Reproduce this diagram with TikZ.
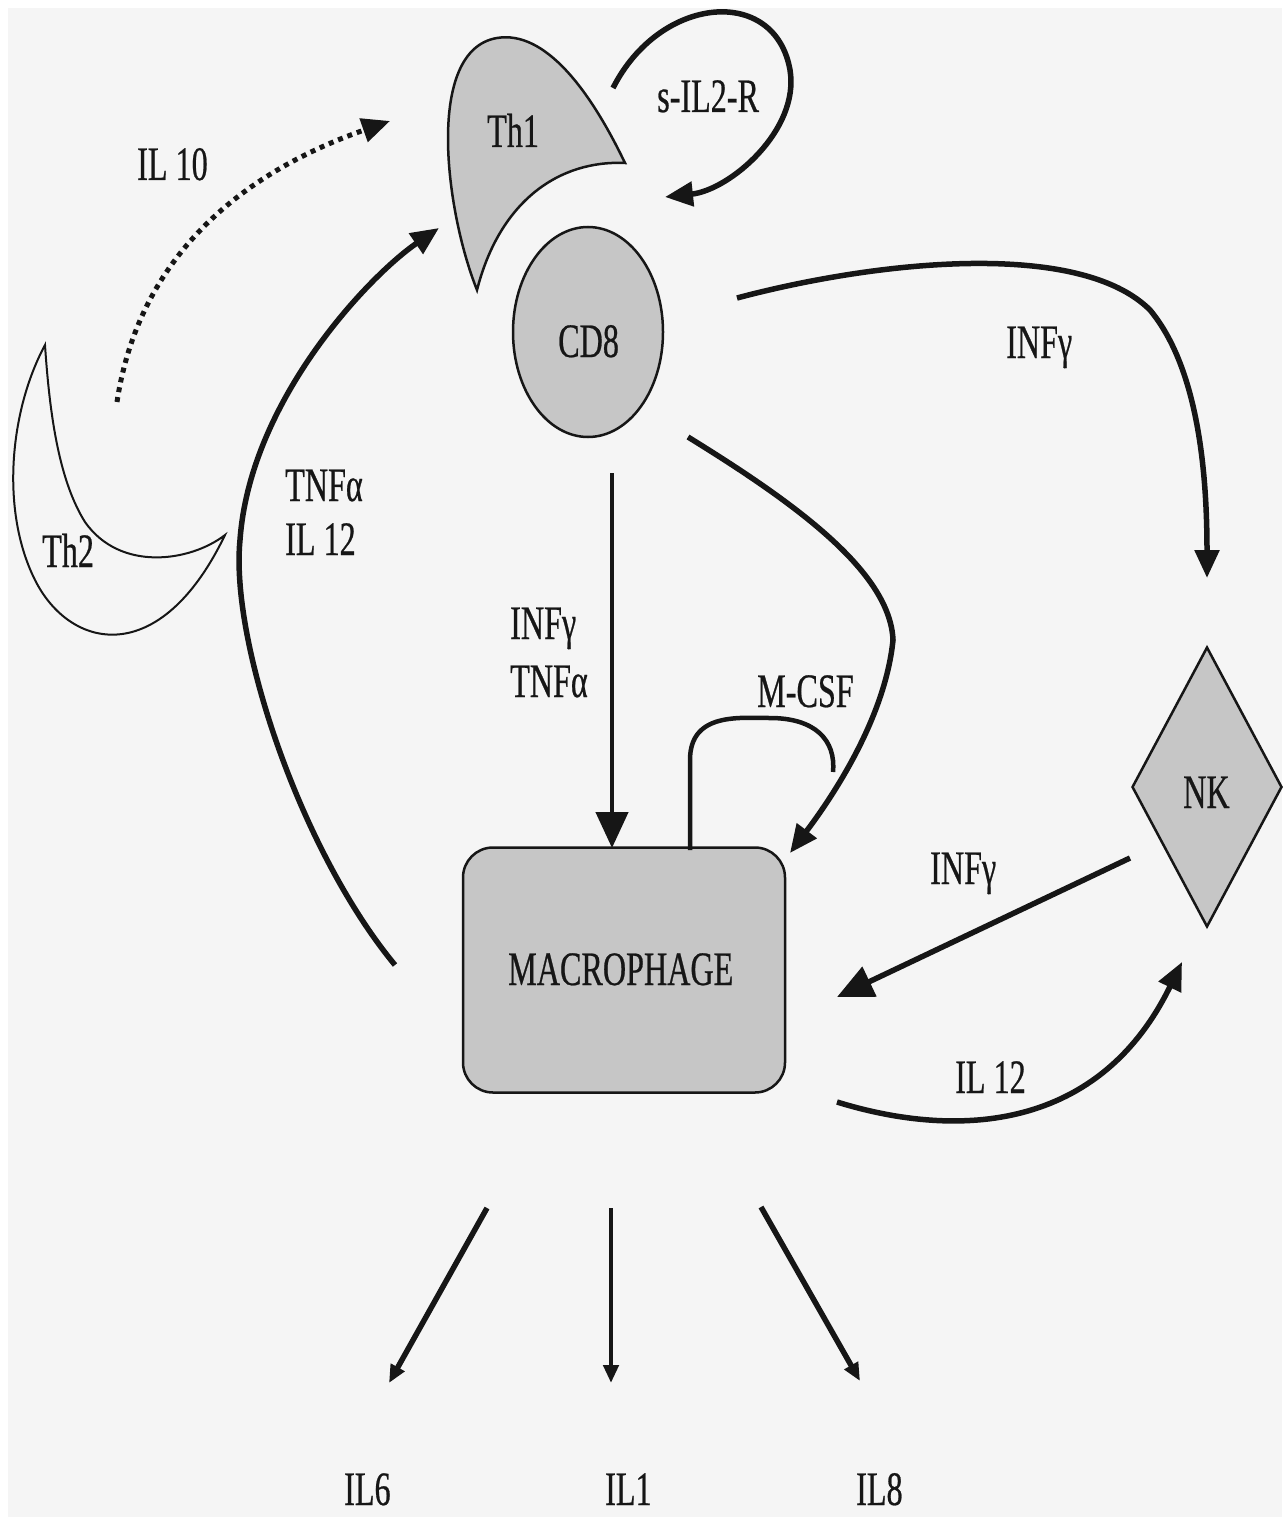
\documentclass[tikz,border=0pt]{standalone}
\usepackage{fontspec}
\setmainfont{Liberation Serif}[FakeStretch=0.67,FakeBold=0.5]
\usetikzlibrary{arrows.meta,shapes.geometric}
\definecolor{bg}{RGB}{245,245,245}
\definecolor{cell}{RGB}{198,198,198}
\definecolor{ink}{RGB}{22,22,22}
\begin{document}
\begin{tikzpicture}[x=1pt,y=-1pt,
  lab/.style={font=\fontsize{48}{56}\selectfont, text=ink, inner sep=0pt, anchor=base west, align=left},
  cellbox/.style={draw=ink, line width=2.5pt, fill=cell},
  flow/.style={draw=ink, line width=5.5pt},
  bigtip/.style={-{Triangle[length=36pt,width=32pt]}},
  midtip/.style={-{Triangle[length=28pt,width=24pt]}},
  smalltip/.style={-{Triangle[length=18pt,width=15pt]}}]
\useasboundingbox (0,0) rectangle (1287,1517);
\fill[white] (0,0) rectangle (1287,1517);
\fill[bg] (8,8) rectangle (1282,1517);

% cells
\path[cellbox] (477,290) .. controls (445,210) and (425,50) .. (497,38)
  .. controls (545,30) and (590,90) .. (625,163)
  .. controls (560,160) and (500,200) .. (477,290) -- cycle;
\path[draw=ink, line width=2pt, fill=bg] (45,345) .. controls (10,410) and (0,510) .. (35,580)
  .. controls (70,650) and (160,670) .. (225,535)
  .. controls (190,562) and (120,572) .. (85,522)
  .. controls (60,482) and (50,420) .. (45,345) -- cycle;
\node[cellbox, ellipse, minimum width=150pt, minimum height=210pt, inner sep=0pt] (cd8) at (588,332) {};
\node[cellbox, rounded corners=30pt, minimum width=322pt, minimum height=245pt, inner sep=0pt] (mac) at (624,970) {};
\node[cellbox, diamond, minimum width=150pt, minimum height=280pt, inner sep=0pt] (nk) at (1207,787) {};

% labels
\node[lab] (lth1) at (487,147) {Th1};
\node[lab] (lth2) at (42,567) {Th2};
\node[lab] (lcd8) at (558,357) {CD8};
\node[lab] (lmac) at (508,985) {MACROPHAGE};
\node[lab] (lnk) at (1183,808) {NK};
\node[lab] (lil10) at (137,180) {IL 10};
\node[lab] (lsil2r) at (657,112) {s-IL2-R};
\node[lab] (linf1) at (1006,358) {INFγ};
\node[lab, font=\fontsize{48}{54}\selectfont] (ltnf1) at (285,555) {TNFα\\IL 12};
\node[lab, font=\fontsize{48}{58}\selectfont] (linf2) at (510,697) {INFγ\\TNFα};
\node[lab] (lmcsf) at (757,707) {M-CSF};
\node[lab] (linf3) at (930,884) {INFγ};
\node[lab] (lil12) at (955,1093) {IL 12};
\node[lab] (lil6) at (344,1505) {IL6};
\node[lab] (lil1) at (605,1505) {IL1};
\node[lab] (lil8) at (856,1505) {IL8};

% connector ends
\coordinate (th2s) at (117,402);
\coordinate (th1w) at (390,121);
\coordinate (macw) at (395,965);
\coordinate (th1sw) at (439,228);
\coordinate (th1o) at (613,88);
\coordinate (th1i) at (665,197);
\coordinate (cd8e) at (737,298);
\coordinate (nkn) at (1207,578);
\coordinate (cd8s) at (612,473);
\coordinate (macn) at (612,848);
\coordinate (cd8se) at (688,437);
\coordinate (macne) at (790,853);
\coordinate (macl) at (690,850);
\coordinate (mcsfe) at (833,772);
\coordinate (nkw) at (1130,858);
\coordinate (mace) at (837,997);
\coordinate (macse) at (837,1102);
\coordinate (nks) at (1182,962);
\coordinate (o6s) at (487,1208);
\coordinate (o6e) at (389,1383);
\coordinate (o1s) at (611,1208);
\coordinate (o1e) at (611,1383);
\coordinate (o8s) at (761,1207);
\coordinate (o8e) at (860,1381);

% connectors
\draw[flow, line width=5pt, midtip, dash pattern=on 5pt off 5pt] (th2s) .. controls (140,250) and (250,170) .. (th1w);
\draw[flow, midtip] (macw) .. controls (300,850) and (230,640) .. (240,540)
  .. controls (250,400) and (370,275) .. (th1sw);
\draw[flow, midtip] (th1o) .. controls (660,-5) and (775,-15) .. (790,70)
  .. controls (800,130) and (730,190) .. (th1i);
\draw[flow, midtip] (cd8e) .. controls (880,260) and (1080,240) .. (1150,310)
  .. controls (1200,370) and (1207,480) .. (nkn);
\draw[flow, line width=4.5pt, bigtip] (cd8s) -- (macn);
\draw[flow, midtip] (cd8se) .. controls (790,500) and (890,570) .. (893,640)
  .. controls (885,720) and (830,800) .. (macne);
\draw[flow, line width=4.5pt] (macl) -- (690,760) .. controls (690,712) and (740,718) .. (770,718)
  .. controls (815,718) and (836,740) .. (mcsfe);
\draw[flow, bigtip] (nkw) -- (mace);
\draw[flow, midtip] (macse) .. controls (960,1140) and (1100,1130) .. (nks);
\draw[flow, smalltip] (o6s) -- (o6e);
\draw[flow, line width=4.5pt, smalltip] (o1s) -- (o1e);
\draw[flow, smalltip] (o8s) -- (o8e);
\end{tikzpicture}
\end{document}
